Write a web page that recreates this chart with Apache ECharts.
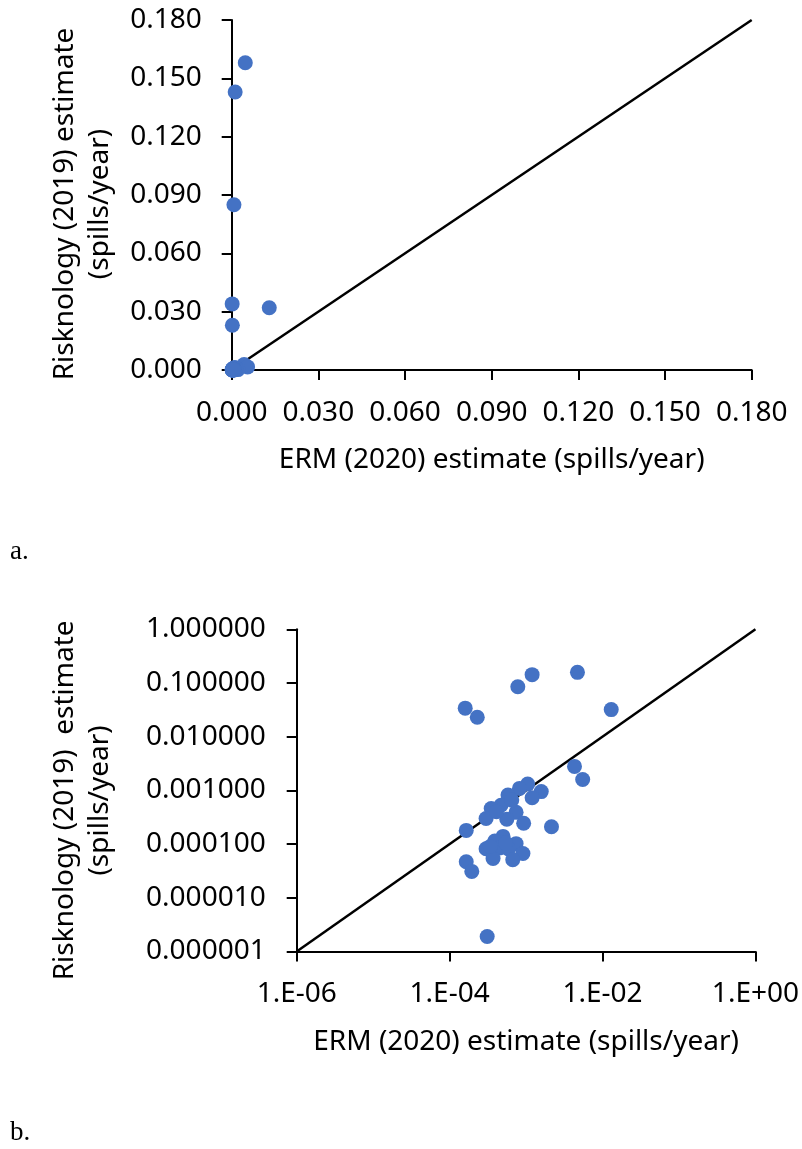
<!DOCTYPE html>
<html>
<head>
<meta charset="utf-8">
<script src="https://cdn.jsdelivr.net/npm/echarts@6/dist/echarts.min.js"></script>
<style>
  html, body { margin: 0; padding: 0; background: #fff; }
  #chart { width: 802px; height: 1149px; }
</style>
</head>
<body>
<div id="chart"></div>
<script>
  // ERM (2020) vs Risknology (2019), spills/year, one value per pipeline segment
  const ermEstimate = [
    1.6e-4, 2.3e-4, 7.8e-4, 1.2e-3, 4.7e-3, 0.013, 4.3e-3, 5.5e-3,
    1.65e-4, 1.65e-4, 1.95e-4, 3.1e-4, 2.15e-3,
    1.05e-3, 8.2e-4, 1.58e-3, 5.8e-4, 1.2e-3, 4.7e-4, 3.5e-4, 7.4e-4,
    3.0e-4, 5.6e-4, 9.3e-4, 4.1e-4, 6.5e-4,
    5.0e-4, 3.9e-4, 7.4e-4, 3.0e-4, 4.5e-4, 5.9e-4, 9.1e-4, 3.7e-4,
    6.7e-4, 3.4e-4, 5.4e-4
  ];
  const risknologyEstimate = [
    0.034, 0.023, 0.085, 0.143, 0.158, 0.032, 2.8e-3, 1.6e-3,
    1.8e-4, 4.7e-5, 3.1e-5, 1.9e-6, 2.1e-4,
    1.31e-3, 1.09e-3, 9.5e-4, 8.2e-4, 7.3e-4, 5.3e-4, 4.6e-4, 3.9e-4,
    3.0e-4, 2.9e-4, 2.45e-4, 4.0e-4, 6.6e-4,
    1.39e-4, 1.14e-4, 1.02e-4, 8.2e-5, 8.5e-5, 8.1e-5, 6.7e-5, 5.4e-5,
    5.1e-5, 9.0e-5, 1.05e-4
  ];
  // 1:1 reference lines
  const linearOneToOne = [[0, 0], [0.18, 0.18]];
  const logOneToOne = [[1e-6, 1e-6], [1, 1]];

  const points = ermEstimate.map((x, i) => [x, risknologyEstimate[i]]);

  const FONT = 'Noto Sans';
  const SIZE = 28;
  const BLUE = '#4472C4';

  function baseAxis(extra) {
    return Object.assign({
      axisLine: { show: true, lineStyle: { color: '#000', width: 2 } },
      axisTick: { show: true, inside: false, length: 10, lineStyle: { color: '#000', width: 2 } },
      splitLine: { show: false },
      axisLabel: { color: '#000', fontFamily: FONT, fontSize: SIZE, margin: 30 },
      nameLocation: 'middle',
      nameTextStyle: { color: '#000', fontFamily: FONT, fontSize: SIZE, lineHeight: 35 }
    }, extra);
  }

  function expLabel(v) {
    const e = Math.round(Math.log10(v));
    const a = Math.abs(e);
    return '1.E' + (e < 0 ? '-' : '+') + (a < 10 ? '0' + a : a);
  }

  const chart = echarts.init(document.getElementById('chart'));
  chart.setOption({
    animation: false,
    grid: [
      { left: 231.7, top: 20, width: 520, height: 350 },
      { left: 296.7, top: 629.3, width: 459, height: 322.2 }
    ],
    xAxis: [
      baseAxis({
        type: 'value', gridIndex: 0, min: 0, max: 0.18, interval: 0.03,
        name: 'ERM (2020) estimate (spills/year)', nameGap: 73,
        axisLabel: { color: '#000', fontFamily: FONT, fontSize: SIZE, margin: 29,
          formatter: v => v.toFixed(3) }
      }),
      baseAxis({
        type: 'log', logBase: 10, gridIndex: 1, min: 1e-6, max: 1, interval: 2,
        name: 'ERM (2020) estimate (spills/year)', nameGap: 73,
        axisLabel: { color: '#000', fontFamily: FONT, fontSize: SIZE, margin: 29,
          formatter: expLabel }
      })
    ],
    yAxis: [
      baseAxis({
        type: 'value', gridIndex: 0, min: 0, max: 0.18, interval: 0.03,
        name: 'Risknology (2019) estimate\n(spills/year)', nameGap: 114,
        nameTextStyle: { color: '#000', fontFamily: FONT, fontSize: SIZE, lineHeight: 35,
          padding: [0, 18, 0, 0] },
        axisLabel: { color: '#000', fontFamily: FONT, fontSize: SIZE, margin: 30,
          formatter: v => v.toFixed(3) }
      }),
      baseAxis({
        type: 'log', logBase: 10, gridIndex: 1, min: 1e-6, max: 1, interval: 1,
        name: 'Risknology (2019)  estimate\n(spills/year)', nameGap: 179,
        nameTextStyle: { color: '#000', fontFamily: FONT, fontSize: SIZE, lineHeight: 35,
          padding: [0, 20, 0, 0] },
        axisLabel: { color: '#000', fontFamily: FONT, fontSize: SIZE, margin: 31,
          formatter: v => v.toFixed(6) }
      })
    ],
    graphic: [
      { type: 'text', left: 10, top: 538, style: { text: 'a.', font: '27px "Liberation Serif"', fill: '#000' } },
      { type: 'text', left: 10, top: 1119, style: { text: 'b.', font: '27px "Liberation Serif"', fill: '#000' } }
    ],
    series: [
      { type: 'line', xAxisIndex: 0, yAxisIndex: 0, data: linearOneToOne, showSymbol: false,
        lineStyle: { color: '#000', width: 2.5 }, z: 1, silent: true },
      { type: 'scatter', xAxisIndex: 0, yAxisIndex: 0, data: points, symbolSize: 15,
        itemStyle: { color: BLUE, opacity: 1 }, z: 2 },
      { type: 'line', xAxisIndex: 1, yAxisIndex: 1, data: logOneToOne, showSymbol: false,
        lineStyle: { color: '#000', width: 2.5 }, z: 1, silent: true },
      { type: 'scatter', xAxisIndex: 1, yAxisIndex: 1, data: points, symbolSize: 15,
        itemStyle: { color: BLUE, opacity: 1 }, z: 2 }
    ]
  });
</script>
</body>
</html>
